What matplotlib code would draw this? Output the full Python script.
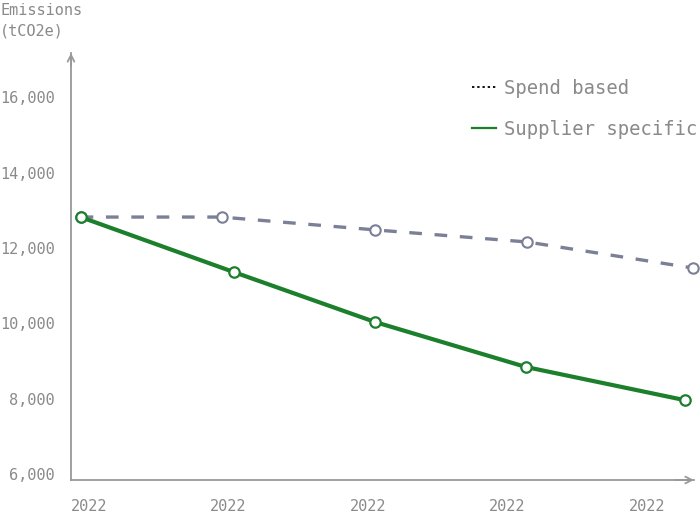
import matplotlib
matplotlib.use("Agg")
import matplotlib.pyplot as plt
from matplotlib.lines import Line2D

# data (x in tick-spacing units, ticks at 0..4)
tick_pos = [0, 1, 2, 3, 4]
tick_labels = ["2022", "2022", "2022", "2022", "2022"]
spend_x = [-0.06, 0.95, 2.05, 3.14, 4.33]
spend_y = [12820, 12820, 12480, 12160, 11470]
supplier_x = [-0.06, 1.04, 2.05, 3.13, 4.27]
supplier_y = [12820, 11360, 10040, 8850, 7970]
yticks = [6000, 8000, 10000, 12000, 14000, 16000]

grey = "#8a8a8a"
spend_col = "#7b8096"
green = "#1b7f2b"

plt.rcParams["font.family"] = ["DejaVu Sans Mono"]

fig = plt.figure(figsize=(7, 5.17), dpi=100)
ax = fig.add_axes([71 / 700, 1 - 480 / 517, 623 / 700, 427 / 517])

ax.plot(spend_x, spend_y, color=spend_col, lw=2.4, ls=(0, (3.8, 3.8)),
        marker="o", ms=7.5, mfc="white", mec=spend_col, mew=1.5, clip_on=False, zorder=3)
ax.plot(supplier_x, supplier_y, color=green, lw=3.0,
        marker="o", ms=7.5, mfc="white", mec=green, mew=1.6, clip_on=False, zorder=4)

ax.set_xlim(-0.129, 4.337)
ax.set_ylim(5854, 17166)

ax.set_xticks(tick_pos)
ax.set_xticklabels(tick_labels)
ax.set_yticks(yticks)
ax.set_yticklabels([f"{v:,}" for v in yticks])
ax.tick_params(length=0, labelsize=11, colors=grey)
ax.tick_params(axis="x", pad=14)
ax.tick_params(axis="y", pad=11.5)

for s in ["top", "right"]:
    ax.spines[s].set_visible(False)
for s in ["left", "bottom"]:
    ax.spines[s].set_color("#999999")
    ax.spines[s].set_linewidth(1.3)

# arrow heads on the axes
ax.annotate("", xy=(0, 1.0), xytext=(0, 0.97), xycoords="axes fraction",
            arrowprops=dict(arrowstyle="->", color="#999999", lw=1.3,
                            mutation_scale=12, shrinkA=0, shrinkB=0))
ax.annotate("", xy=(1.0, 0), xytext=(0.97, 0), xycoords="axes fraction",
            arrowprops=dict(arrowstyle="->", color="#999999", lw=1.3,
                            mutation_scale=12, shrinkA=0, shrinkB=0))

fig.text(0.0, 1 - 21 / 517, "Emissions\n(tCO2e)", ha="left", va="center",
         fontsize=11, color=grey, linespacing=1.5)

handles = [Line2D([], [], color="black", lw=1.3, ls=(0, (1.3, 1.6))),
           Line2D([], [], color=green, lw=1.6)]
fig.legend(handles, ["Spend based", "Supplier specific"], loc="upper left",
           bbox_to_anchor=(455 / 700, 1 - 62 / 517), frameon=False,
           fontsize=13.6, labelcolor=grey, handlelength=1.25, handletextpad=0.45,
           labelspacing=1.15)

fig.savefig("out.png", dpi=100)
